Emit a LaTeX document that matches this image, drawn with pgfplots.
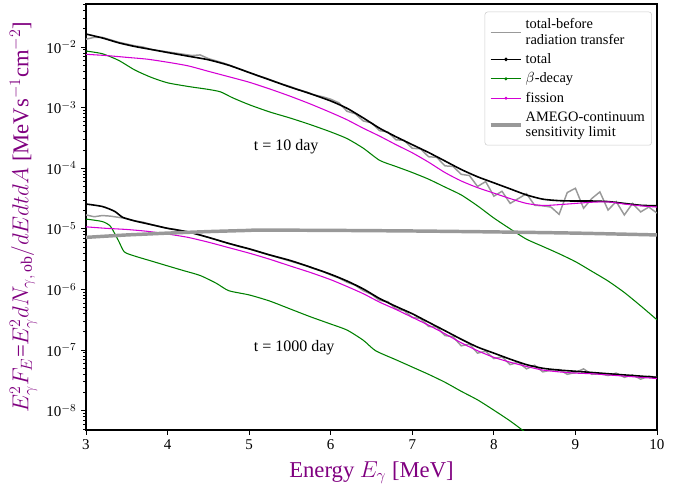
\documentclass[border=0pt]{standalone}
\usepackage{fontspec}
\setmainfont{Liberation Serif}
\usepackage{pgfplots}
\pgfplotsset{compat=1.18}
\definecolor{mgray}{HTML}{999999}
\definecolor{mgreen}{HTML}{008000}
\definecolor{mmag}{HTML}{D400D4}
\definecolor{mpurple}{HTML}{800080}
\begin{document}
\begin{tikzpicture}
\useasboundingbox (-64.5pt,-42.75pt) rectangle (456pt,322.5pt);
\begin{axis}[
  scale only axis, width=428.25pt, height=319.5pt,
  xmin=3, xmax=10, ymode=log, ymin=4.8e-9, ymax=5.13e-2,
  xtick={3,4,5,6,7,8,9,10},
  ytick={1e-8,1e-7,1e-6,1e-5,1e-4,1e-3,1e-2},
  yticklabels={10$^{-8}$,10$^{-7}$,10$^{-6}$,10$^{-5}$,10$^{-4}$,10$^{-3}$,10$^{-2}$},
  minor ytick={5e-9,6e-9,7e-9,8e-9,9e-9,
    2e-8,3e-8,4e-8,5e-8,6e-8,7e-8,8e-8,9e-8,
    2e-7,3e-7,4e-7,5e-7,6e-7,7e-7,8e-7,9e-7,
    2e-6,3e-6,4e-6,5e-6,6e-6,7e-6,8e-6,9e-6,
    2e-5,3e-5,4e-5,5e-5,6e-5,7e-5,8e-5,9e-5,
    2e-4,3e-4,4e-4,5e-4,6e-4,7e-4,8e-4,9e-4,
    2e-3,3e-3,4e-3,5e-3,6e-3,7e-3,8e-3,9e-3,
    2e-2,3e-2,4e-2,5e-2},
  xtick pos=bottom, ytick pos=left, tick align=outside,
  major tick length=3.6pt, minor tick length=2.1pt,
  tick style={black, line width=0.6pt},
  axis line style={line width=0.8pt},
  /pgf/number format/assume math mode=true,
  tick label style={font=\fontsize{11.25}{13}\selectfont},
  xlabel={Energy $E_\gamma$ [MeV]},
  ylabel={$E_\gamma^2F_E$=$E_\gamma^2dN_{\gamma,\,\mathrm{ob}}/dEdtdA$ [MeVs$^{-1}$cm$^{-2}$]},
  label style={font=\fontsize{17}{20}\selectfont, text=mpurple},
  xlabel style={yshift=-2pt},
  legend style={at={(0.991,0.982)}, anchor=north east, draw=black!20, rounded corners=2pt,
    font=\fontsize{10.8}{11.5}\selectfont, cells={anchor=west, align=left},
    row sep=1.5pt, inner xsep=3pt, inner ysep=3pt},
  legend image code/.code={\draw[mark repeat=2,mark phase=2] plot coordinates {(0pt,0pt) (11.5pt,0pt) (23pt,0pt)};},
]
% total-before radiation transfer, t = 10 day
\addplot[mgray, line width=1.1pt] coordinates {
(3.0,1.349e-2) (3.1,1.445e-2) (3.2,1.445e-2) (3.3,1.318e-2) (3.4,1.202e-2) (3.5,1.122e-2)
(3.6,1.047e-2) (3.7,1.000e-2) (3.8,9.120e-3) (3.9,8.710e-3) (4.0,8.318e-3) (4.1,7.943e-3)
(4.2,7.586e-3) (4.3,7.244e-3) (4.4,7.413e-3) (4.5,6.457e-3) (4.6,5.888e-3) (4.7,5.370e-3)
(4.8,4.786e-3) (4.9,4.266e-3) (5.0,3.802e-3) (5.1,3.388e-3) (5.2,3.090e-3) (5.3,2.754e-3)
(5.4,2.455e-3) (5.5,2.239e-3) (5.6,1.995e-3) (5.7,1.820e-3) (5.8,1.622e-3) (5.9,1.514e-3)
(6.0,1.380e-3) (6.1,1.202e-3) (6.2,8.710e-4) (6.3,7.943e-4) (6.4,6.026e-4) (6.5,5.623e-4)
(6.6,4.169e-4) (6.7,3.981e-4) (6.8,2.951e-4) (6.9,2.884e-4) (7.0,2.138e-4) (7.1,2.089e-4)
(7.2,1.549e-4) (7.3,1.514e-4) (7.4,1.096e-4) (7.5,1.072e-4) (7.6,7.943e-5) (7.7,7.586e-5)
(7.8,5.012e-5) (7.9,6.026e-5) (8.0,3.467e-5) (8.1,4.169e-5) (8.2,2.630e-5) (8.3,3.162e-5)
(8.4,3.802e-5) (8.5,2.455e-5) (8.6,2.399e-5) (8.7,2.291e-5) (8.8,1.738e-5) (8.9,3.981e-5)
(9.0,4.677e-5) (9.1,2.188e-5) (9.2,3.162e-5) (9.3,4.074e-5) (9.4,2.042e-5) (9.5,2.818e-5)
(9.6,1.698e-5) (9.7,2.630e-5) (9.8,1.905e-5) (9.9,2.291e-5) (10.0,1.820e-5)};
\addlegendentry{total-before\\radiation transfer}
% total-before, t = 1000 day
\addplot[mgray, line width=1.1pt, forget plot] coordinates {
(3.0,1.698e-5) (3.1,1.585e-5) (3.2,1.660e-5) (3.3,1.622e-5) (3.4,1.549e-5) (3.5,1.479e-5)
(3.6,1.349e-5) (3.7,1.288e-5) (3.8,1.175e-5) (3.9,1.096e-5) (4.0,1.023e-5) (4.1,9.772e-6)
(4.2,9.120e-6) (4.3,8.710e-6) (4.4,7.943e-6) (4.5,7.244e-6) (4.6,6.607e-6) (4.7,6.026e-6)
(4.8,5.495e-6) (4.9,5.012e-6) (5.0,4.677e-6) (5.1,4.266e-6) (5.2,3.890e-6) (5.3,3.548e-6)
(5.4,3.236e-6) (5.5,2.951e-6) (5.6,2.692e-6) (5.7,2.455e-6) (5.8,2.188e-6) (5.9,1.995e-6)
(6.0,1.738e-6) (6.1,1.549e-6) (6.2,1.318e-6) (6.3,1.175e-6) (6.4,9.550e-7) (6.5,8.318e-7)
(6.6,6.607e-7) (6.7,6.310e-7) (6.8,4.786e-7) (6.9,4.467e-7) (7.0,3.467e-7) (7.1,3.311e-7)
(7.2,2.455e-7) (7.3,2.399e-7) (7.4,1.738e-7) (7.5,1.660e-7) (7.6,1.175e-7) (7.7,1.259e-7)
(7.8,8.913e-8) (7.9,9.550e-8) (8.0,7.244e-8) (8.1,7.762e-8) (8.2,5.754e-8) (8.3,6.310e-8)
(8.4,4.898e-8) (8.5,5.623e-8) (8.6,4.365e-8) (8.7,4.677e-8) (8.8,4.786e-8) (8.9,3.981e-8)
(9.0,4.266e-8) (9.1,4.898e-8) (9.2,3.981e-8) (9.3,4.074e-8) (9.4,3.802e-8) (9.5,4.169e-8)
(9.6,3.548e-8) (9.7,3.890e-8) (9.8,3.311e-8) (9.9,3.715e-8) (10.0,3.548e-8)};
% total, t = 10 day
\addplot[black, line width=1.2pt, smooth, tension=0.4, legend image post style={mark=*, mark size=0.7pt}] coordinates {
(3.0,1.64e-2) (3.2,1.413e-2) (3.4,1.175e-2) (3.6,1.02e-2) (3.8,9.12e-3) (4.0,8.13e-3)
(4.25,7.08e-3) (4.5,6.17e-3) (4.75,5.01e-3) (5.0,3.80e-3) (5.25,2.88e-3) (5.5,2.19e-3)
(5.75,1.70e-3) (6.0,1.29e-3) (6.2,9.77e-4) (6.4,6.76e-4) (6.6,4.57e-4) (6.8,3.31e-4)
(7.0,2.45e-4) (7.2,1.82e-4) (7.4,1.32e-4) (7.6,9.55e-5) (7.8,7.24e-5) (8.0,5.75e-5)
(8.2,4.57e-5) (8.4,3.63e-5) (8.6,3.09e-5) (8.8,2.92e-5) (9.0,2.88e-5) (9.2,2.88e-5)
(9.4,2.82e-5) (9.6,2.63e-5) (9.8,2.45e-5) (10.0,2.40e-5)};
\addlegendentry{total}
% total, t = 1000 day
\addplot[black, line width=1.2pt, smooth, tension=0.4, forget plot] coordinates {
(3.0,2.57e-5) (3.2,2.34e-5) (3.35,1.95e-5) (3.45,1.55e-5) (3.6,1.35e-5) (3.8,1.175e-5)
(4.0,1.02e-5) (4.25,8.91e-6) (4.5,7.24e-6) (4.75,5.75e-6) (5.0,4.68e-6) (5.25,3.72e-6)
(5.5,3.02e-6) (5.75,2.34e-6) (6.0,1.78e-6) (6.2,1.38e-6) (6.4,1.02e-6) (6.6,7.08e-7)
(6.8,5.25e-7) (7.0,3.98e-7) (7.2,2.88e-7) (7.4,2.09e-7) (7.6,1.51e-7) (7.8,1.12e-7)
(8.0,8.91e-8) (8.2,7.08e-8) (8.4,5.75e-8) (8.6,5.01e-8) (8.8,4.68e-8) (9.0,4.47e-8)
(9.2,4.27e-8) (9.4,4.07e-8) (9.6,3.89e-8) (9.8,3.72e-8) (10.0,3.55e-8)};
% beta-decay, t = 10 day
\addplot[mgreen, line width=0.8pt, smooth, tension=0.4, legend image post style={mark=*, mark size=0.7pt}] coordinates {
(3.0,8.59e-3) (3.2,7.76e-3) (3.4,6.03e-3) (3.6,4.17e-3) (3.8,3.16e-3) (4.0,2.57e-3)
(4.25,2.24e-3) (4.5,2.00e-3) (4.65,1.82e-3) (4.8,1.45e-3) (5.0,1.12e-3) (5.25,8.51e-4)
(5.5,6.76e-4) (5.75,5.25e-4) (6.0,3.98e-4) (6.2,3.09e-4) (6.4,2.14e-4) (6.6,1.35e-4)
(6.8,1.07e-4) (7.0,8.51e-5) (7.2,6.61e-5) (7.4,4.90e-5) (7.6,3.63e-5) (7.8,2.40e-5)
(8.0,1.51e-5) (8.2,1.00e-5) (8.4,6.76e-6) (8.6,5.13e-6) (8.8,3.89e-6) (9.0,2.88e-6)
(9.2,2.00e-6) (9.4,1.38e-6) (9.6,8.91e-7) (9.8,5.37e-7) (10.0,3.16e-7)};
\addlegendentry{$\beta$-decay}
% beta-decay, t = 1000 day
\addplot[mgreen, line width=0.8pt, smooth, tension=0.4, forget plot] coordinates {
(3.0,1.45e-5) (3.2,1.32e-5) (3.3,1.10e-5) (3.4,6.31e-6) (3.47,4.17e-6) (3.6,3.55e-6)
(3.8,2.95e-6) (4.0,2.45e-6) (4.2,2.04e-6) (4.4,1.70e-6) (4.6,1.26e-6) (4.75,9.55e-7)
(5.0,8.13e-7) (5.25,6.46e-7) (5.5,4.79e-7) (5.75,3.55e-7) (6.0,2.69e-7) (6.2,2.14e-7)
(6.4,1.45e-7) (6.55,9.77e-8) (6.8,6.92e-8) (7.0,5.25e-8) (7.2,3.98e-8) (7.4,2.95e-8)
(7.6,2.09e-8) (7.8,1.51e-8) (8.0,1.02e-8) (8.2,6.76e-9) (8.4,4.27e-9) (8.5,3.39e-9)};
% fission, t = 10 day
\addplot[mmag, line width=0.8pt, smooth, tension=0.4, legend image post style={mark=*, mark size=0.7pt}] coordinates {
(3.0,7.59e-3) (3.25,7.24e-3) (3.5,6.76e-3) (3.75,6.31e-3) (4.0,5.62e-3) (4.25,4.90e-3)
(4.5,3.98e-3) (4.75,3.24e-3) (5.0,2.63e-3) (5.25,2.04e-3) (5.5,1.55e-3) (5.75,1.15e-3)
(6.0,8.32e-4) (6.2,6.31e-4) (6.4,4.57e-4) (6.6,3.39e-4) (6.8,2.45e-4) (7.0,1.80e-4)
(7.2,1.26e-4) (7.4,8.51e-5) (7.6,6.17e-5) (7.8,4.79e-5) (8.0,3.89e-5) (8.2,3.16e-5)
(8.4,2.63e-5) (8.6,2.43e-5) (8.8,2.51e-5) (9.0,2.63e-5) (9.2,2.75e-5) (9.4,2.79e-5)
(9.6,2.57e-5) (9.8,2.40e-5) (10.0,2.29e-5)};
\addlegendentry{fission}
% fission, t = 1000 day
\addplot[mmag, line width=0.8pt, smooth, tension=0.4, forget plot] coordinates {
(3.0,1.08e-5) (3.25,1.02e-5) (3.5,9.77e-6) (3.75,9.12e-6) (4.0,8.22e-6) (4.25,7.24e-6)
(4.5,6.03e-6) (4.75,4.90e-6) (5.0,3.98e-6) (5.25,3.16e-6) (5.5,2.45e-6) (5.75,1.91e-6)
(6.0,1.45e-6) (6.2,1.12e-6) (6.4,8.51e-7) (6.6,6.17e-7) (6.8,4.68e-7) (7.0,3.47e-7)
(7.2,2.57e-7) (7.4,1.86e-7) (7.6,1.32e-7) (7.8,9.77e-8) (8.0,7.59e-8) (8.2,6.31e-8)
(8.4,5.37e-8) (8.6,4.68e-8) (8.8,4.37e-8) (9.0,4.17e-8) (9.2,4.07e-8) (9.4,3.89e-8)
(9.6,3.72e-8) (9.8,3.55e-8) (10.0,3.39e-8)};
% AMEGO-continuum sensitivity limit
\addplot[mgray, line width=2.6pt, smooth, tension=0.4] coordinates {
(3.0,7.24e-6) (3.25,7.59e-6) (3.5,7.94e-6) (3.75,8.22e-6) (4.0,8.51e-6) (4.5,9.02e-6)
(5.0,9.44e-6) (5.1,9.55e-6) (6.0,9.44e-6) (7.0,9.23e-6) (8.0,8.91e-6) (9.0,8.51e-6)
(10.0,7.94e-6)};
\addlegendentry{AMEGO-continuum\\sensitivity limit}
\node[anchor=base west, font=\fontsize{12}{14}\selectfont] at (axis cs:5,1.95e-4) {t = 10 day};
\node[anchor=base west, font=\fontsize{12}{14}\selectfont] at (axis cs:5,9.5e-8) {t = 1000 day};
\end{axis}
\end{tikzpicture}
\end{document}
